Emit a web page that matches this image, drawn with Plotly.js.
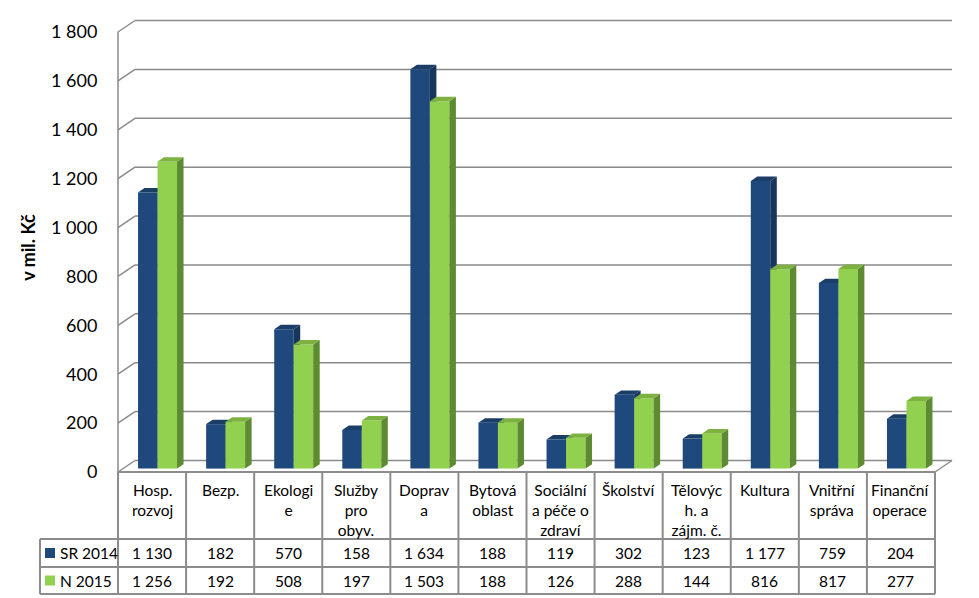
<!DOCTYPE html>
<html>
<head>
<meta charset="utf-8">
<script src="https://cdn.plot.ly/plotly-3.0.1.min.js"></script>
<style>html,body{margin:0;padding:0;background:#fff;}#chart{width:979px;height:598px;}</style>
</head>
<body>
<div id="chart"></div>
<script>
// ---- data ----
const categories = ["Hosp.<br>rozvoj", "Bezp.", "Ekologi<br>e", "Služby<br>pro<br>obyv.", "Doprav<br>a", "Bytová<br>oblast",
  "Sociální<br>a péče o<br>zdraví", "Školství", "Tělovýc<br>h. a<br>zájm. č.", "Kultura", "Vnitřní<br>správa", "Finanční<br>operace"];
const sr2014 = [1130, 182, 570, 158, 1634, 188, 119, 302, 123, 1177, 759, 204];
const n2015 = [1256, 192, 508, 197, 1503, 188, 126, 288, 144, 816, 817, 277];
const seriesNames = ["SR 2014", "N 2015"];
const yTicks = [0, 200, 400, 600, 800, 1000, 1200, 1400, 1600, 1800];
const yTickText = ["0", "200", "400", "600", "800", "1 000", "1 200", "1 400", "1 600", "1 800"];

// ---- geometry (pixels) ----
const FONT = "Lato, 'Open Sans', sans-serif";
const W = 979, H = 598;
const frontLeft = 118, frontRight = 935, frontBottom = 472, frontTop1800 = 32;
const plotL = 114, plotR = 956, plotT = 19, plotB = 476;
const colW = (frontRight - frontLeft) / categories.length;   // px per category
const sy = (frontBottom - frontTop1800) / 1800;               // px per unit
const depthXpx = 17, depthYpx = 11.5;                         // wall depth
const barShiftXpx = 5.5, barShiftYpx = 3.4;                   // bar front plane inside the box
const barWpx = 19.5, barDepthXpx = 6.5;
const barDepthYpx = barDepthXpx * depthYpx / depthXpx;

const xMin = -0.5 - (frontLeft - plotL) / colW;
const xMax = -0.5 + (plotR - frontLeft) / colW;
const yMin = -(plotB - frontBottom) / sy;
const yMax = (frontBottom - plotT) / sy;

const DX = depthXpx / colW, DY = depthYpx / sy;
const bShiftX = barShiftXpx / colW, bBase = barShiftYpx / sy;
const bW = barWpx / colW, bdx = barDepthXpx / colW, bdy = barDepthYpx / sy;

const px2x = px => (px - plotL) / (plotR - plotL);
const px2y = py => (plotB - py) / (plotB - plotT);

const colors = {
  blue: {front: "#1F497D", side: "#16365C", top: "#1B3E69"},
  green: {front: "#92D050", side: "#5E8A31", top: "#7DB140"}
};

function seriesTraces(vals, name, c, leftOffset, xa, ya) {
  const xs = vals.map((v, i) => i + bShiftX);
  const bar = {type: "bar", name: name, x: xs, y: vals, base: vals.map(() => bBase),
    width: bW, offset: leftOffset, marker: {color: c.front, line: {width: 0}},
    xaxis: xa, yaxis: ya, showlegend: false, hoverinfo: "y+name"};
  const sx = [], syy = [], tx = [], ty = [];
  vals.forEach((v, i) => {
    const xl = xs[i] + leftOffset, xr = xl + bW, top = bBase + v;
    sx.push(xr, xr, xr + bdx, xr + bdx, null);
    syy.push(bBase, top, top + bdy, bBase + bdy, null);
    tx.push(xl, xr, xr + bdx, xl + bdx, null);
    ty.push(top, top, top + bdy, top + bdy, null);
  });
  const side = {type: "scatter", mode: "none", x: sx, y: syy, fill: "toself", fillcolor: c.side,
    xaxis: xa, yaxis: ya, showlegend: false, hoverinfo: "skip"};
  const topF = {type: "scatter", mode: "none", x: tx, y: ty, fill: "toself", fillcolor: c.top,
    xaxis: xa, yaxis: ya, showlegend: false, hoverinfo: "skip"};
  return [bar, side, topF];
}

const traces = [
  ...seriesTraces(sr2014, seriesNames[0], colors.blue, -bW, "x", "y"),
  ...seriesTraces(n2015, seriesNames[1], colors.green, 0, "x2", "y2")
];

// ---- walls / gridlines ----
const gridColor = "#8a8a8a";
const shapes = [];
const x0 = -0.5, x1 = categories.length - 0.5;
yTicks.forEach(v => {
  shapes.push({type: "line", xref: "x", yref: "y", x0: x0 + DX, x1: x1 + DX, y0: v + DY, y1: v + DY,
    line: {color: gridColor, width: 1.5}, layer: "below"});
  shapes.push({type: "line", xref: "x", yref: "y", x0: x0, x1: x0 + DX, y0: v, y1: v + DY,
    line: {color: gridColor, width: 1.5}, layer: "below"});
});
shapes.push({type: "line", xref: "x", yref: "y", x0: x0, x1: x0, y0: 0, y1: 1800,
  line: {color: gridColor, width: 1.5}, layer: "below"});
shapes.push({type: "line", xref: "x", yref: "y", x0: x1, x1: x1 + DX, y0: 0, y1: DY,
  line: {color: gridColor, width: 1.5}, layer: "below"});

// ---- data table ----
const tblColor = "#8c8c8c";
const legendLeft = 40, headerTop = frontBottom, row1Top = 539, row2Top = 567, tblBottom = 594;
const tl = (xa, ya, xb, yb) => shapes.push({type: "line", xref: "paper", yref: "paper",
  x0: px2x(xa), x1: px2x(xb), y0: px2y(ya), y1: px2y(yb), line: {color: tblColor, width: 2}});
tl(frontLeft, headerTop, frontRight, headerTop);
[row1Top, row2Top, tblBottom].forEach(py => tl(legendLeft, py, frontRight, py));
tl(legendLeft, row1Top, legendLeft, tblBottom);
for (let i = 0; i <= categories.length; i++) {
  const px = frontLeft + i * colW;
  tl(px, headerTop, px, tblBottom);
}

const annotations = [];
const cellFont = {family: FONT, size: 15.5, color: "#000"};
categories.forEach((c, i) => {
  const cx = px2x(frontLeft + (i + 0.5) * colW);
  annotations.push({xref: "paper", yref: "paper", x: cx, y: px2y(479), yanchor: "top", xanchor: "center",
    text: c, showarrow: false, align: "center", font: cellFont});
  annotations.push({xref: "paper", yref: "paper", x: cx, y: px2y((row1Top + row2Top) / 2), yanchor: "middle",
    xanchor: "center", text: sr2014[i].toLocaleString("cs-CZ").replace(/\s/g, " "), showarrow: false, font: cellFont});
  annotations.push({xref: "paper", yref: "paper", x: cx, y: px2y((row2Top + tblBottom) / 2), yanchor: "middle",
    xanchor: "center", text: n2015[i].toLocaleString("cs-CZ").replace(/\s/g, " "), showarrow: false, font: cellFont});
});
[[seriesNames[0], colors.blue.front, (row1Top + row2Top) / 2], [seriesNames[1], colors.green.front, (row2Top + tblBottom) / 2]]
  .forEach(([name, col, cy]) => {
    shapes.push({type: "rect", xref: "paper", yref: "paper", x0: px2x(45), x1: px2x(55),
      y0: px2y(cy - 5), y1: px2y(cy + 5), fillcolor: col, line: {width: 0}});
    annotations.push({xref: "paper", yref: "paper", x: px2x(58), y: px2y(cy), xanchor: "left", yanchor: "middle",
      text: name, showarrow: false, font: cellFont});
  });

const layout = {
  width: W, height: H,
  margin: {l: plotL, r: W - plotR, t: plotT, b: H - plotB, pad: 0},
  paper_bgcolor: "#fff", plot_bgcolor: "#fff",
  showlegend: false,
  font: {family: FONT, color: "#000"},
  xaxis: {range: [xMin, xMax], visible: false, fixedrange: true},
  yaxis: {range: [yMin, yMax], tickvals: yTicks, ticktext: yTickText, showgrid: false, zeroline: false,
    showline: false, ticks: "outside", ticklen: 12, tickcolor: "rgba(0,0,0,0)",
    tickfont: {family: FONT, size: 18, color: "#000"},
    title: {text: "v mil. Kč", font: {family: FONT, size: 18, color: "#000", weight: 700}, standoff: 10}},
  xaxis2: {range: [xMin, xMax], overlaying: "x", visible: false},
  yaxis2: {range: [yMin, yMax], overlaying: "y", visible: false},
  shapes: shapes,
  annotations: annotations
};

Plotly.newPlot("chart", traces, layout, {displayModeBar: false, staticPlot: true});
</script>
</body>
</html>
